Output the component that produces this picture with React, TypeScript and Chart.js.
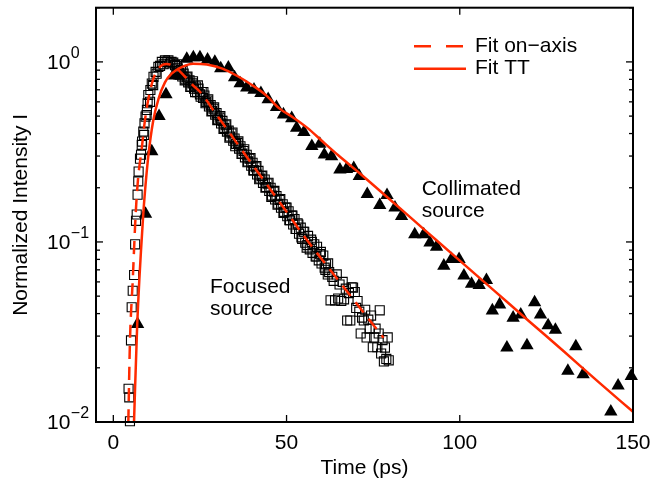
import React, { useEffect, useRef } from 'react';
import { Chart, registerables } from 'chart.js';

Chart.register(...registerables);

// ---------- axes ----------
const xRange = [-5, 150];
const yRange = [0.01, 2];
const xTickValues = [0, 50, 100, 150];
const yDecades = [0.01, 0.1, 1];
const yMultipliers = [1, 2, 3, 4, 5, 6, 7, 8, 9];
const xTitle = 'Time (ps)';
const yTitle = 'Normalized Intensity I';
const legendLabels = ['Fit on\u2212axis', 'Fit TT'];

// ---------- data: collimated source (triangles) ----------
const collimatedT = [
  7.0, 9.3, 11.1, 13.2, 15.2, 17.3, 19.2, 21.2, 23.1, 25.0, 27.2, 29.3, 31.0, 33.2, 35.0, 36.6,
  38.5, 40.6, 42.6, 44.7, 47.1, 49.1, 51.5, 52.9, 55.0, 57.3, 59.6, 60.9, 63.0, 65.4, 67.3, 69.4,
  71.0, 73.3, 76.9, 79.0, 81.3, 83.2, 87.0, 89.6, 91.4, 93.3, 95.4, 97.6, 99.8, 101.2, 103.4, 105.6,
  107.7, 109.4, 111.5, 113.6, 115.4, 117.6, 119.4, 121.6, 123.3, 125.5, 127.6, 131.2, 133.5, 135.6,
  143.6, 145.7, 149.5,
];
const collimatedI = [
  0.035, 0.143, 0.318, 0.5, 0.66, 0.84, 0.84, 1.04, 1.06, 1.06, 1.03, 1.0, 0.92, 0.93, 0.82, 0.76,
  0.72, 0.7, 0.67, 0.62, 0.56, 0.51, 0.486, 0.43, 0.407, 0.34, 0.35, 0.305, 0.299, 0.252, 0.254, 0.257,
  0.232, 0.184, 0.16, 0.182, 0.155, 0.139, 0.11, 0.11, 0.099, 0.094, 0.0737, 0.0802, 0.0802, 0.0649, 0.0584, 0.0576,
  0.0614, 0.0416, 0.0449, 0.0259, 0.0379, 0.0395, 0.0266, 0.0462, 0.0395, 0.0344, 0.0325, 0.0192, 0.0263, 0.0184,
  0.0114, 0.0159, 0.018,
];

// ---------- data: focused source (squares) ----------
const focusedT = [
  4.4, 4.6, 4.8, 5.1, 5.3, 5.6, 6.0, 6.3, 6.55, 6.75, 7.0, 7.2, 7.3, 7.7, 8.0, 8.2, 8.3, 8.65, 8.9, 9.0,
  9.3, 9.6, 9.7, 9.9, 10.1, 10.6, 10.7, 11.1, 11.5, 11.6, 12.2, 12.5, 13.0, 13.5, 14.0, 14.5, 14.9, 15.4,
  15.9, 16.4, 16.8, 17.3, 17.8,
  18.2, 18.6, 19.0, 19.5, 19.9, 20.3, 20.8, 21.2, 21.6, 22.0, 22.5, 22.9, 23.3, 23.8, 24.2, 24.6, 25.0,
  25.5, 25.9, 26.3, 26.8, 27.2, 27.6, 28.1, 28.5, 28.9, 29.4, 29.8, 30.2, 30.7, 31.1, 31.5, 32.0, 32.4,
  32.8, 33.3, 33.7, 34.1, 34.6, 35.0, 35.4, 35.9, 36.3, 36.7, 37.2, 37.6, 38.0, 38.5, 38.9, 39.3, 39.8,
  40.2, 40.6, 41.1, 41.5, 41.9, 42.4, 42.8, 43.2, 43.7, 44.1, 44.5, 45.0, 45.4, 45.8, 46.3, 46.7, 47.1,
  47.6, 48.0, 48.4, 48.9, 49.3, 49.7, 50.2, 50.6, 51.0, 51.5, 51.9, 52.3, 52.8, 53.2, 53.6, 54.1, 54.5,
  54.9, 55.4, 55.8, 56.2, 56.7, 57.1, 57.5, 58.0, 58.4, 58.8, 59.3, 59.7, 60.1, 60.6, 61.0, 61.4, 61.9,
  62.3, 62.7, 63.2, 63.6, 64.0, 64.5, 64.9, 65.3, 65.8, 66.2, 66.6, 67.1, 67.5, 68.0, 68.4, 68.8, 69.2,
  69.7, 70.1, 70.5, 71.0, 71.4, 71.8, 72.3, 72.7, 73.1, 73.6, 74.0, 74.4, 74.9, 75.3, 75.7, 76.2, 76.6,
  76.9, 77.3, 77.7, 78.1, 78.4, 78.8, 79.2, 79.5,
  18.4, 19.2, 20.0, 20.6, 21.4, 22.2, 23.0, 23.6, 24.4, 25.2, 26.0, 26.6, 27.4, 28.3, 29.1, 30.0, 30.9,
  31.8, 32.6, 33.5, 34.4, 35.2, 36.1, 37.0, 37.8, 38.7, 39.6, 40.4, 41.3, 42.1, 43.0, 43.9, 44.8, 45.6,
  46.5, 47.4, 48.2, 49.1, 50.0, 50.8, 51.7, 52.6, 53.4, 54.3, 55.1, 56.0, 57.3, 58.6, 59.9, 61.2, 62.0,
];
const focusedI = [
  0.0153, 0.0137, 0.0101, 0.0284, 0.0434, 0.0536, 0.0655, 0.097, 0.131, 0.142, 0.183, 0.217, 0.246, 0.29,
  0.305, 0.346, 0.361, 0.41, 0.393, 0.456, 0.497, 0.507, 0.541, 0.589, 0.655, 0.6, 0.698, 0.758, 0.743,
  0.826, 0.88, 0.86, 0.938, 0.95, 1.0, 0.97, 1.02, 1.0, 1.02, 0.98, 1.0, 0.99, 0.959,
  0.95, 0.92, 0.87, 0.9, 0.83, 0.86, 0.8, 0.82, 0.77, 0.79, 0.73, 0.76, 0.71, 0.73, 0.68, 0.71, 0.66,
  0.68, 0.63, 0.65, 0.6, 0.61, 0.565, 0.575, 0.535, 0.55, 0.51, 0.52, 0.48, 0.49, 0.455, 0.47, 0.43, 0.445,
  0.41, 0.415, 0.385, 0.4, 0.365, 0.375, 0.35, 0.355, 0.33, 0.34, 0.31, 0.32, 0.295, 0.305, 0.28, 0.29, 0.265,
  0.275, 0.25, 0.26, 0.237, 0.248, 0.225, 0.232, 0.213, 0.222, 0.202, 0.211, 0.192, 0.2, 0.181, 0.19, 0.172, 0.18,
  0.163, 0.171, 0.155, 0.162, 0.147, 0.155, 0.139, 0.148, 0.132, 0.14, 0.125, 0.134, 0.118, 0.127, 0.111, 0.12, 0.104,
  0.114, 0.099, 0.093, 0.108, 0.091, 0.103, 0.087, 0.097, 0.083, 0.094, 0.079, 0.0855, 0.076, 0.084, 0.072, 0.0752, 0.066,
  0.068, 0.0474, 0.064, 0.0608, 0.0474, 0.066, 0.0485, 0.058, 0.047, 0.06, 0.048, 0.055, 0.0366, 0.052, 0.0366, 0.056, 0.0558,
  0.0527, 0.043, 0.047, 0.041, 0.031, 0.038, 0.0366, 0.042, 0.0295, 0.037, 0.033, 0.039, 0.026, 0.0295, 0.033, 0.026, 0.031,
  0.0417, 0.024, 0.0285, 0.0217, 0.0259, 0.0224, 0.0295, 0.022,
  0.97, 0.85, 0.89, 0.79, 0.83, 0.725, 0.78, 0.68, 0.74, 0.64, 0.68, 0.59, 0.62, 0.53, 0.56, 0.475, 0.5,
  0.425, 0.45, 0.38, 0.405, 0.34, 0.362, 0.308, 0.327, 0.277, 0.292, 0.25, 0.264, 0.223, 0.234, 0.2, 0.213, 0.178,
  0.192, 0.161, 0.173, 0.145, 0.155, 0.132, 0.14, 0.118, 0.125, 0.106, 0.114, 0.096, 0.1, 0.083, 0.088, 0.07, 0.076,
];

// ---------- fits ----------
const fitOnAxisT = [
  4.33, 4.8, 5.6, 6.45, 7.1, 8.2, 9.1, 10.1, 11.5, 13.5, 15.4, 17.8, 20.5, 23.0, 25, 30, 35, 40, 45,
  50, 55, 60, 65, 70, 75, 78,
];
const fitOnAxisI = [
  0.01, 0.028, 0.061, 0.143, 0.22, 0.33, 0.47, 0.62, 0.8, 0.94, 0.975, 0.935, 0.835, 0.74, 0.683, 0.502,
  0.369, 0.271, 0.2, 0.147, 0.108, 0.081, 0.061, 0.046, 0.0347, 0.0294,
];
const fitTTT = [
  5.97, 6.9, 8.65, 9.14, 10.1, 11.5, 13.0, 14.9, 16.8, 19.7, 23.0, 27.0, 31.5, 35.8, 40.0, 44.0, 48.0,
  52.0, 56.0, 60.5, 65.0, 70, 80, 90, 100, 110, 120, 130, 140, 150,
];
const fitTTI = [
  0.01, 0.035, 0.143, 0.191, 0.3, 0.47, 0.62, 0.77, 0.86, 0.935, 0.978, 0.968, 0.918, 0.835, 0.745, 0.655,
  0.55, 0.49, 0.43, 0.36, 0.302, 0.251, 0.171, 0.116, 0.0787, 0.0535, 0.0363, 0.0247, 0.0167, 0.0114,
];

// ---------- text annotations (anchored in data coordinates) ----------
const annotationLines = [['Collimated', 'source'], ['Focused', 'source']];
const annotationT = [89.0, 27.9];
const annotationI = [0.197, 0.0564];

const RED = '#ff2a00';
const FONT = '"Liberation Sans", Arial, Helvetica, sans-serif';

const toPts = (ts: number[], is: number[]) => ts.map((t, k) => ({ x: t, y: is[k] }));

const isPow10 = (v: number) => Math.abs(Math.log10(v) - Math.round(Math.log10(v))) < 1e-9;

const decorPlugin = {
  id: 'decor',
  afterDatasetsDraw(chart: any) {
    const { ctx, chartArea: a, scales } = chart;
    const xs = scales.x;
    const ys = scales.y;
    ctx.save();
    // box
    ctx.strokeStyle = '#000';
    ctx.lineWidth = 2;
    ctx.strokeRect(a.left, a.top, a.right - a.left, a.bottom - a.top);
    // ticks
    ctx.lineWidth = 1.3;
    const seg = (x1: number, y1: number, x2: number, y2: number) => {
      ctx.beginPath();
      ctx.moveTo(x1, y1);
      ctx.lineTo(x2, y2);
      ctx.stroke();
    };
    for (const t of xs.ticks) {
      const px = xs.getPixelForValue(t.value);
      seg(px, a.bottom, px, a.bottom - 7);
      seg(px, a.top, px, a.top + 7);
    }
    for (const t of ys.ticks) {
      const py = ys.getPixelForValue(t.value);
      const len = isPow10(t.value) ? 7 : 4;
      seg(a.left, py, a.left + len, py);
      seg(a.right, py, a.right - len, py);
    }
    // y tick labels with superscript exponents
    ctx.fillStyle = '#000';
    ctx.textBaseline = 'middle';
    ctx.textAlign = 'left';
    for (const t of ys.ticks) {
      if (!isPow10(t.value)) continue;
      const py = ys.getPixelForValue(t.value);
      const e = Math.round(Math.log10(t.value));
      ctx.font = `21px ${FONT}`;
      const baseX = a.left - 49;
      ctx.fillText('10', baseX, py + 1);
      const w = ctx.measureText('10').width;
      ctx.font = `16px ${FONT}`;
      ctx.fillText(e < 0 ? '\u2212' + Math.abs(e) : String(e), baseX + w + 0.5, py - 8);
    }
    // annotations
    ctx.font = `21px ${FONT}`;
    annotationLines.forEach((lines, k) => {
      const px = xs.getPixelForValue(annotationT[k]);
      const py = ys.getPixelForValue(annotationI[k]);
      lines.forEach((s, j) => ctx.fillText(s, px, py + j * 22.5));
    });
    // legend
    const lx0 = a.right - 219;
    const lx1 = a.right - 167;
    const tx = a.right - 158;
    const rows = [a.top + 38.5, a.top + 61];
    ctx.strokeStyle = RED;
    ctx.lineWidth = 2.5;
    rows.forEach((ry, k) => {
      ctx.setLineDash(k === 0 ? [17, 15] : []);
      seg(lx0, ry, lx1, ry);
      ctx.setLineDash([]);
      ctx.fillText(legendLabels[k], tx, ry);
    });
    ctx.restore();
  },
};

export default function App() {
  const ref = useRef<HTMLCanvasElement | null>(null);
  useEffect(() => {
    if (!ref.current) return;
    const chart = new Chart(ref.current, {
      type: 'scatter',
      data: {
        datasets: [
          {
            label: legendLabels[0],
            data: toPts(fitOnAxisT, fitOnAxisI),
            showLine: true,
            borderColor: RED,
            borderWidth: 2.5,
            borderDash: [13, 8],
            pointRadius: 0,
            cubicInterpolationMode: 'monotone',
          },
          {
            label: legendLabels[1],
            data: toPts(fitTTT, fitTTI),
            showLine: true,
            borderColor: RED,
            borderWidth: 2.5,
            pointRadius: 0,
            cubicInterpolationMode: 'monotone',
          },
          {
            label: 'Focused',
            data: toPts(focusedT, focusedI),
            pointStyle: 'rect',
            pointRadius: 6.4,
            borderColor: '#000',
            borderWidth: 1.1,
            backgroundColor: 'rgba(0,0,0,0)',
            clip: false as any,
          },
          {
            label: 'Collimated',
            data: toPts(collimatedT, collimatedI),
            pointStyle: 'triangle',
            pointRadius: 7.7,
            borderWidth: 0,
            borderColor: '#000',
            backgroundColor: '#000',
            clip: false as any,
          },
        ],
      } as any,
      options: {
        responsive: false,
        animation: false,
        devicePixelRatio: 1,
        layout: { padding: { top: 5, right: 18, bottom: 0, left: 0 } },
        plugins: { legend: { display: false }, tooltip: { enabled: false } },
        events: [],
        scales: {
          x: {
            type: 'linear',
            min: xRange[0],
            max: xRange[1],
            afterBuildTicks: (s: any) => {
              s.ticks = xTickValues.map((v) => ({ value: v }));
            },
            afterFit: (s: any) => {
              s.height = 63;
              s.paddingLeft = 0;
              s.paddingRight = 0;
            },
            grid: { display: false, drawTicks: false },
            border: { display: false },
            ticks: {
              color: '#000',
              padding: 9,
              maxRotation: 0,
              font: { size: 21, family: FONT },
              callback: (v: any) => String(v),
            },
            title: {
              display: true,
              text: xTitle,
              color: '#000',
              font: { size: 21, family: FONT },
              padding: { top: 0, bottom: 4 },
            },
          },
          y: {
            type: 'logarithmic',
            min: yRange[0],
            max: yRange[1],
            afterBuildTicks: (s: any) => {
              const vals: number[] = [];
              yDecades.forEach((d) =>
                yMultipliers.forEach((m) => {
                  const v = +(d * m).toPrecision(6);
                  if (v <= yRange[1] + 1e-12) vals.push(v);
                }),
              );
              s.ticks = vals.map((v) => ({ value: v }));
            },
            afterFit: (s: any) => {
              s.width = 96;
              s.paddingTop = 0;
              s.paddingBottom = 0;
            },
            grid: { display: false, drawTicks: false },
            border: { display: false },
            ticks: { display: false },
            title: {
              display: true,
              text: yTitle,
              color: '#000',
              font: { size: 21, family: FONT },
              padding: { top: 9, bottom: 0 },
            },
          },
        },
      } as any,
      plugins: [decorPlugin],
    });
    return () => chart.destroy();
  }, []);
  return (
    <canvas
      ref={ref}
      width={651}
      height={485}
      style={{ position: 'fixed', left: 0, top: 0, width: 651, height: 485, background: '#fff' }}
    />
  );
}
